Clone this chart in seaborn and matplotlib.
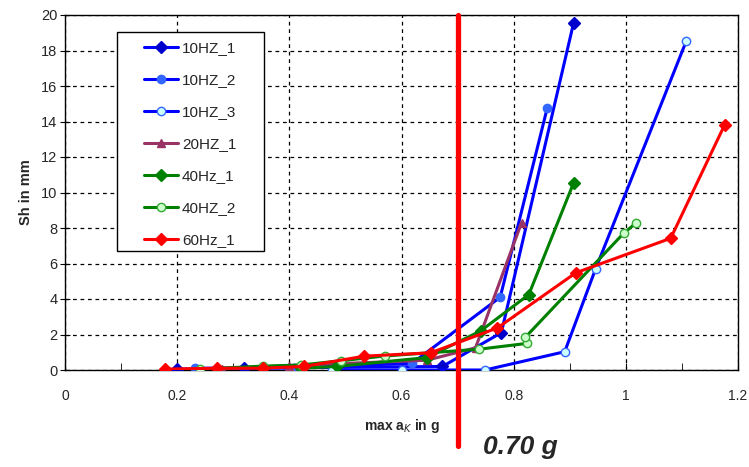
import pandas as pd
import matplotlib.pyplot as plt
import seaborn as sns
from matplotlib.patches import Rectangle

# series (x = max a_K in g, y = Sh in mm)
hz10_1_x = [0.200, 0.320, 0.478, 0.673, 0.778, 0.907]
hz10_1_y = [0.05, 0.10, 0.15, 0.20, 2.10, 19.57]
hz10_2_x = [0.232, 0.408, 0.619, 0.776, 0.860]
hz10_2_y = [0.10, 0.12, 0.38, 4.10, 14.78]
hz10_3_x = [0.476, 0.600, 0.749, 0.891, 0.946, 1.108]
hz10_3_y = [0.0, 0.0, 0.0, 1.03, 5.69, 18.55]
hz20_1_x = [0.280, 0.399, 0.645, 0.732, 0.814]
hz20_1_y = [0.05, 0.25, 0.55, 1.25, 8.30]
hz40_1_x = [0.420, 0.485, 0.645, 0.741, 0.827, 0.907]
hz40_1_y = [0.10, 0.20, 0.70, 2.20, 4.25, 10.55]
hz40_2_x = [0.241, 0.353, 0.420, 0.492, 0.571, 0.738, 0.824, 0.821, 0.996, 1.019]
hz40_2_y = [0.05, 0.22, 0.28, 0.52, 0.79, 1.17, 1.50, 1.85, 7.70, 8.30]
hz60_1_x = [0.178, 0.271, 0.353, 0.426, 0.534, 0.652, 0.771, 0.911, 1.080, 1.176]
hz60_1_y = [0.05, 0.10, 0.10, 0.20, 0.78, 0.97, 2.37, 5.48, 7.42, 13.80]

labels = ['10HZ_1', '10HZ_2', '10HZ_3', '20HZ_1', '40Hz_1', '40HZ_2', '60Hz_1']
xs = [hz10_1_x, hz10_2_x, hz10_3_x, hz20_1_x, hz40_1_x, hz40_2_x, hz60_1_x]
ys = [hz10_1_y, hz10_2_y, hz10_3_y, hz20_1_y, hz40_1_y, hz40_2_y, hz60_1_y]
threshold = 0.70

line_colors = ['#0000FF', '#0000FF', '#0000FF', '#993366', '#008000', '#008000', '#FF0000']
face_colors = ['#0000CC', '#3366FF', '#CCFFFF', '#993366', '#008000', '#CCFFCC', '#FF0000']
edge_colors = ['#0000CC', '#3366FF', '#3366FF', '#993366', '#008000', '#33AA33', '#FF0000']
marker_list = ['D', 'o', 'o', '^', 'D', 'o', 'D']

sns.set_style('white')
plt.rcParams['font.family'] = ['Liberation Sans', 'DejaVu Sans']

fig = plt.figure(figsize=(7.49, 4.67), dpi=100)
ax = fig.add_axes([65 / 749, 1 - 370 / 467, 673 / 749, 355 / 467])

for i in range(len(labels)):
    df = pd.DataFrame({'x': xs[i], 'y': ys[i]})
    sns.lineplot(data=df, x='x', y='y', sort=False, estimator=None, ax=ax,
                 color=line_colors[i], lw=2.2, marker=marker_list[i], markersize=6,
                 markerfacecolor=face_colors[i], markeredgecolor=edge_colors[i],
                 markeredgewidth=1, label=labels[i], zorder=3)

ax.axvline(threshold, ymin=-0.214, ymax=1, color='#FF0000', lw=3.8, clip_on=False, zorder=4)

ax.set_xlim(0, 1.2)
ax.set_ylim(0, 20)
ax.set_xticks([0, 0.2, 0.4, 0.6, 0.8, 1.0, 1.2])
ax.set_xticklabels(['0', '0.2', '0.4', '0.6', '0.8', '1', '1.2'])
ax.set_xticks([0.1, 0.3, 0.5, 0.7, 0.9, 1.1], minor=True)
ax.set_yticks(range(0, 21, 2))
ax.tick_params(axis='x', which='both', direction='in', length=5, color='black',
               labelsize=10, pad=14, bottom=True)
ax.tick_params(axis='y', direction='inout', length=7, color='black', labelsize=10.5,
               pad=2, left=True)
ax.grid(True, which='major', color='black', ls=(0, (3, 3)), lw=0.9)
for s in ax.spines.values():
    s.set_color('black')
    s.set_linewidth(1)

ax.set_xlabel('max a$_K$ in g', fontsize=10, fontweight='bold', labelpad=10)
ax.set_ylabel('Sh in mm', fontsize=10.5, fontweight='bold', labelpad=6)
ax.text(0.676, -0.217, '0.70 g', transform=ax.transAxes, fontsize=19,
        fontweight='bold', style='italic', ha='center', va='center')

# legend box drawn separately so it can be wider than the entries
box = Rectangle((0.0773, 0.335), 0.2184, 0.617, transform=ax.transAxes,
                facecolor='white', edgecolor='black', lw=1, zorder=5)
ax.add_patch(box)
leg = ax.legend(loc='upper left', bbox_to_anchor=(0.118, 0.926), borderaxespad=0,
                frameon=False, fontsize=11, labelspacing=1.18, handlelength=2.2,
                handletextpad=0.25, borderpad=0)
leg.set_zorder(6)

fig.savefig('out.png', dpi=100)
